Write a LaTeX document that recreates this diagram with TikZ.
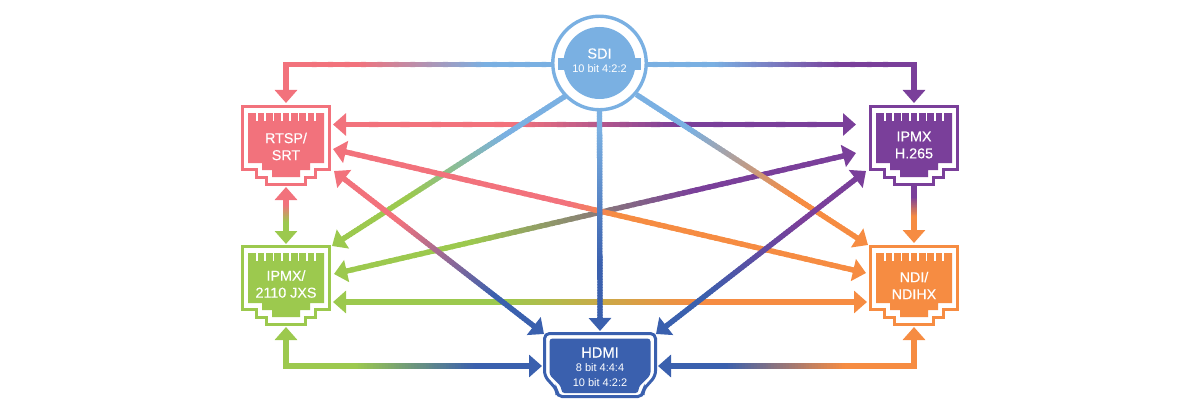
\documentclass[tikz,border=0pt]{standalone}
\usepackage{fontspec}
\setmainfont{Liberation Sans}
\newfontfamily\portfont[FakeBold=0.3]{Liberation Sans}
\usepackage{xcolor}
\definecolor{sdiblue}{HTML}{7AB0E2}
\definecolor{hdmiblue}{HTML}{3A60AE}
\definecolor{rtspred}{HTML}{F2727C}
\definecolor{jxsgreen}{HTML}{9CC94E}
\definecolor{h265purple}{HTML}{7A3F9A}
\definecolor{ndiorange}{HTML}{F68C42}
\usepackage{tikz}
\usetikzlibrary{positioning,arrows.meta,calc,backgrounds}
\tikzset{
    shaft/.style={
        line width=5.3pt,
    },
    tiphead/.style={
        -{Triangle[length=13pt,width=22pt]},
        line width=5.3pt,
    },
    porttext/.style={
        text=white,
        align=center,
        inner sep=0pt,
        font=\portfont\fontsize{14.3}{17}\selectfont,
    },
    pics/rjport/.style={
        code={
            \draw[draw=#1, fill=white, line width=3pt, miter limit=10]
                (-43.5,1.5) -- (43.5,1.5) -- (43.5,64.5) -- (29.5,64.5) -- (29.5,72.5)
                -- (19.5,72.5) -- (19.5,79.5) -- (-19.5,79.5) -- (-19.5,72.5)
                -- (-29.5,72.5) -- (-29.5,64.5) -- (-43.5,64.5) -- cycle;
            \fill[#1]
                (-38,8) -- (38,8) -- (38,58) -- (24,58) -- (24,65) -- (14,65) -- (14,72)
                -- (-14,72) -- (-14,65) -- (-24,65) -- (-24,58) -- (-38,58) -- cycle;
            \foreach \slit in {0,...,7}
                \draw[white, line width=1.6pt] ({-29.2+8.33*\slit},7) -- ({-29.2+8.33*\slit},16);
        },
    },
}
% shaft whose colour runs from #3 to #4 between the fractions #5 and #6
\newcommand{\gradlink}[6]{%
    \coordinate (gradS) at ($(#1)!11pt!(#2)$);
    \coordinate (gradE) at ($(#2)!11pt!(#1)$);
    \foreach \seg in {1,...,80} {
        \pgfmathsetmacro\tA{(\seg-1)/80}
        \pgfmathsetmacro\tB{min(1,\seg/80+0.006)}
        \pgfmathsetmacro\mix{100*max(0,min(1,((\seg-0.5)/80-#5)/(#6-#5)))}
        \draw[shaft, color=#4!\mix!#3] ($(gradS)!\tA!(gradE)$) -- ($(gradS)!\tB!(gradE)$);
    }
}
\newcommand{\linktip}[3]{\draw[tiphead, color=#3] ($(#1)!14pt!(#2)$) -- (#1);}
% solid bend: from the gradient side #1 round the corner #2 towards the end #3
\newcommand{\bendlink}[4]{\draw[shaft, color=#4, miter limit=10] ($(#2)!14pt!(#1)$) -- (#2) -- ($(#3)!11pt!(#2)$);}

\begin{document}
\begin{tikzpicture}[x=1pt, y=-1pt]
    \useasboundingbox (0,0) rectangle (1200,420);

    % ports
    \pic at (286,105) {rjport=rtspred};
    \pic at (286,245) {rjport=jxsgreen};
    \pic at (914,105) {rjport=h265purple};
    \pic at (914,245) {rjport=ndiorange};
    \node[porttext] (rtsp) at (286,146.5) {RTSP/\\SRT};
    \node[porttext] (ipmxjxs) at (286,284) {IPMX/\\2110 JXS};
    \node[porttext] (ipmxh) at (914,145) {IPMX\\H.265};
    \node[porttext] (ndi) at (914,285.5) {NDI/\\NDIHX};

    % SDI connector
    \node[circle, draw=sdiblue, fill=white, line width=3.4pt, minimum size=93.5pt, inner sep=0pt] (sdi) at (599.5,63) {};
    \fill[sdiblue] (599.5,63) circle (36);
    \fill[sdiblue] (558,58) rectangle (641,70);
    \node[porttext, font=\portfont\fontsize{14.5}{15}\selectfont] at (599.5,60.5) {SDI\\[-1pt]{\rmfamily\fontsize{11}{13}\selectfont 10 bit 4:2:2}};

    % HDMI connector
    \draw[draw=hdmiblue, fill=white, line width=3pt, rounded corners=5pt]
        (544.5,333.5) -- (655.5,333.5) -- (655.5,376) -- (643,390) -- (643,396.5)
        -- (557,396.5) -- (557,390) -- (544.5,376) -- cycle;
    \fill[hdmiblue, rounded corners=3pt]
        (549.5,338.5) -- (650.5,338.5) -- (650.5,375) -- (638.5,387) -- (638.5,393)
        -- (561.5,393) -- (561.5,387) -- (549.5,375) -- cycle;
    \node[porttext, font=\portfont\fontsize{14.7}{15}\selectfont] (hdmi) at (600,367) {HDMI\\[-1pt]{\rmfamily\fontsize{11}{14}\selectfont 8 bit 4:4:4}\\{\rmfamily\fontsize{11}{14}\selectfont 10 bit 4:2:2}};

    % connector ends
    \coordinate (rtsp-e1) at ($(rtsp)+(47,-22)$);
    \coordinate (rtsp-e2) at ($(rtsp)+(47,2.5)$);
    \coordinate (rtsp-e3) at ($(rtsp)+(48,24.5)$);
    \coordinate (rtsp-top) at ($(rtsp)+(0,-43.5)$);
    \coordinate (rtsp-bot) at ($(rtsp)+(0,40.5)$);
    \coordinate (ipmxjxs-e1) at ($(ipmxjxs)+(46,-38)$);
    \coordinate (ipmxjxs-e2) at ($(ipmxjxs)+(48,-10)$);
    \coordinate (ipmxjxs-e3) at ($(ipmxjxs)+(47,18)$);
    \coordinate (ipmxjxs-top) at ($(ipmxjxs)+(0,-40)$);
    \coordinate (ipmxjxs-bot) at ($(ipmxjxs)+(0,43)$);
    \coordinate (ipmxh-w1) at ($(ipmxh)+(-58,-20.5)$);
    \coordinate (ipmxh-w2) at ($(ipmxh)+(-58,8)$);
    \coordinate (ipmxh-w3) at ($(ipmxh)+(-48,26)$);
    \coordinate (ipmxh-top) at ($(ipmxh)+(0,-42)$);
    \coordinate (ipmxh-bot) at ($(ipmxh)+(0,25)$);
    \coordinate (ndi-w1) at ($(ndi)+(-46,-40.5)$);
    \coordinate (ndi-w2) at ($(ndi)+(-48,-12.5)$);
    \coordinate (ndi-w3) at ($(ndi)+(-47,16.5)$);
    \coordinate (ndi-top) at ($(ndi)+(0,-42.5)$);
    \coordinate (ndi-bot) at ($(ndi)+(0,41.5)$);
    \coordinate (hdmi-w) at ($(hdmi)+(-58,-1)$);
    \coordinate (hdmi-e) at ($(hdmi)+(58,-1)$);
    \coordinate (hdmi-n) at ($(hdmi)+(0,-36)$);
    \coordinate (hdmi-nw) at ($(hdmi)+(-56,-33)$);
    \coordinate (hdmi-ne) at ($(hdmi)+(56,-33)$);
    \coordinate (sdi-l) at ($(sdi)+(-21.5,25)$);
    \coordinate (sdi-r) at ($(sdi)+(27.5,25.5)$);
    \coordinate (sdi-s) at ($(sdi)+(0,25)$);
    \coordinate (sdi-w) at ($(sdi)+(-29,1.5)$);
    \coordinate (sdi-e) at ($(sdi)+(29,1.5)$);
    \coordinate (corner-nw) at (rtsp-top |- sdi-w);
    \coordinate (corner-ne) at (ipmxh-top |- sdi-e);
    \coordinate (corner-sw) at (ipmxjxs-bot |- hdmi-w);
    \coordinate (corner-se) at (ndi-bot |- hdmi-e);

    \begin{scope}[on background layer]
        % horizontal links
        \gradlink{rtsp-e1}{ipmxh-w1}{rtspred}{h265purple}{0.34}{0.67}
        \gradlink{ipmxjxs-e3}{ndi-w3}{jxsgreen}{ndiorange}{0.31}{0.69}
        % diagonals
        \gradlink{ipmxjxs-e2}{ipmxh-w2}{jxsgreen}{h265purple}{0.25}{0.70}
        \gradlink{ipmxjxs-e1}{sdi-l}{jxsgreen}{sdiblue}{0.30}{0.72}
        \gradlink{rtsp-e2}{ndi-w2}{rtspred}{ndiorange}{0.44}{0.53}
        \gradlink{sdi-r}{ndi-w1}{sdiblue}{ndiorange}{0.24}{0.70}
        \gradlink{rtsp-e3}{hdmi-nw}{rtspred}{hdmiblue}{0.29}{0.79}
        \gradlink{hdmi-ne}{ipmxh-w3}{hdmiblue}{h265purple}{0.20}{0.70}
        \gradlink{sdi-s}{hdmi-n}{sdiblue}{hdmiblue}{0.14}{0.75}
        % verticals
        \gradlink{rtsp-bot}{ipmxjxs-top}{rtspred}{jxsgreen}{0.20}{0.70}
        \gradlink{ipmxh-bot}{ndi-top}{h265purple}{ndiorange}{0.32}{0.70}
        % elbows
        \gradlink{sdi-w}{corner-nw}{sdiblue}{rtspred}{0.28}{0.77}
        \gradlink{sdi-e}{corner-ne}{sdiblue}{h265purple}{0.28}{0.77}
        \gradlink{hdmi-w}{corner-sw}{hdmiblue}{jxsgreen}{0.24}{0.75}
        \gradlink{hdmi-e}{corner-se}{hdmiblue}{ndiorange}{0.24}{0.75}
        \bendlink{sdi-w}{corner-nw}{rtsp-top}{rtspred}
        \bendlink{sdi-e}{corner-ne}{ipmxh-top}{h265purple}
        \bendlink{hdmi-w}{corner-sw}{ipmxjxs-bot}{jxsgreen}
        \bendlink{hdmi-e}{corner-se}{ndi-bot}{ndiorange}
        % arrow heads
        \linktip{rtsp-e1}{ipmxh-w1}{rtspred}
        \linktip{ipmxh-w1}{rtsp-e1}{h265purple}
        \linktip{ipmxjxs-e3}{ndi-w3}{jxsgreen}
        \linktip{ndi-w3}{ipmxjxs-e3}{ndiorange}
        \linktip{ipmxjxs-e2}{ipmxh-w2}{jxsgreen}
        \linktip{ipmxh-w2}{ipmxjxs-e2}{h265purple}
        \linktip{ipmxjxs-e1}{sdi-l}{jxsgreen}
        \linktip{rtsp-e2}{ndi-w2}{rtspred}
        \linktip{ndi-w2}{rtsp-e2}{ndiorange}
        \linktip{ndi-w1}{sdi-r}{ndiorange}
        \linktip{rtsp-e3}{hdmi-nw}{rtspred}
        \linktip{hdmi-nw}{rtsp-e3}{hdmiblue}
        \linktip{hdmi-ne}{ipmxh-w3}{hdmiblue}
        \linktip{ipmxh-w3}{hdmi-ne}{h265purple}
        \linktip{hdmi-n}{sdi-s}{hdmiblue}
        \linktip{rtsp-bot}{ipmxjxs-top}{rtspred}
        \linktip{ipmxjxs-top}{rtsp-bot}{jxsgreen}
        \linktip{ndi-top}{ipmxh-bot}{ndiorange}
        \linktip{rtsp-top}{corner-nw}{rtspred}
        \linktip{ipmxh-top}{corner-ne}{h265purple}
        \linktip{ipmxjxs-bot}{corner-sw}{jxsgreen}
        \linktip{ndi-bot}{corner-se}{ndiorange}
        \linktip{hdmi-w}{corner-sw}{hdmiblue}
        \linktip{hdmi-e}{corner-se}{hdmiblue}
    \end{scope}
\end{tikzpicture}
\end{document}
